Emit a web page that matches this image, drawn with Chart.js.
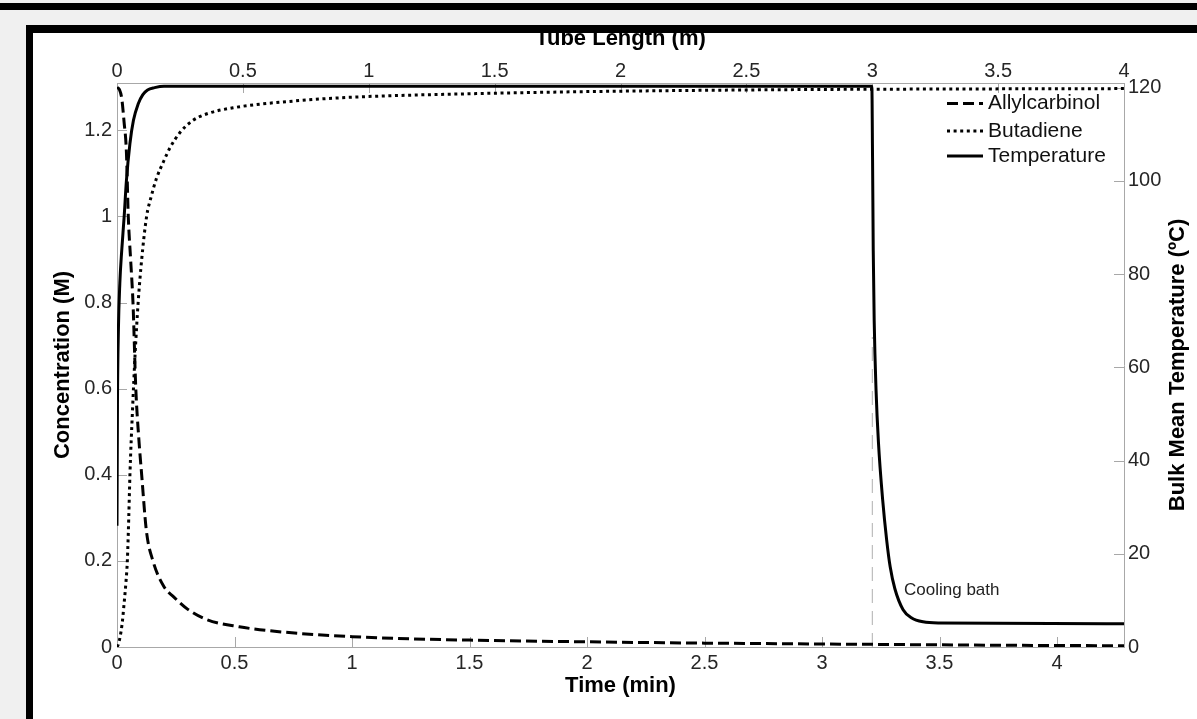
<!DOCTYPE html>
<html>
<head>
<meta charset="utf-8">
<script src="https://cdn.jsdelivr.net/npm/chart.js@4.4.1/dist/chart.umd.min.js"></script>
<style>
  html, body { margin: 0; padding: 0; }
  body { width: 1197px; height: 719px; background: #f0f0f0; position: relative; overflow: hidden; }
  #topbar { position: absolute; left: 0; top: 3px; width: 1197px; height: 7px; background: #000; z-index: 3; }
  #panel { position: absolute; left: 33px; top: 33px; width: 1164px; height: 686px; background: #fff; z-index: 0; }
  #frameTop { position: absolute; left: 26px; top: 25px; width: 1171px; height: 8px; background: #000; z-index: 3; }
  #frameLeft { position: absolute; left: 26px; top: 25px; width: 7px; height: 694px; background: #000; z-index: 3; }
  #chart { position: absolute; left: 0; top: 0; z-index: 1; }
</style>
</head>
<body>
<div id="topbar"></div>
<div id="panel"></div>
<canvas id="chart" width="1197" height="719"></canvas>
<div id="frameTop"></div>
<div id="frameLeft"></div>
<script>
// --- data ---
const timeMax = 4.285;      // min, bottom axis
const lengthMax = 4;        // m, top axis
const concMax = 1.31;       // M, left axis
const tempMax = 121;        // deg C, right axis

const allylTime = [0, 0.01, 0.02, 0.03, 0.04, 0.048, 0.058, 0.068, 0.08, 0.092, 0.105, 0.125, 0.153, 0.2, 0.24, 0.3, 0.38, 0.52, 0.7, 1.0, 1.25, 1.5, 2.0, 2.5, 3.0, 3.5, 4.0, 4.285];
const allylConc = [1.30, 1.295, 1.275, 1.22, 1.15, 1.0, 0.9, 0.8, 0.6, 0.49, 0.4, 0.27, 0.2, 0.14, 0.117, 0.088, 0.064, 0.047, 0.035, 0.024, 0.019, 0.016, 0.012, 0.009, 0.007, 0.005, 0.0035, 0.003];

const butaTime = [0, 0.005, 0.013, 0.022, 0.03, 0.038, 0.044, 0.05, 0.055, 0.066, 0.077, 0.09, 0.105, 0.126, 0.145, 0.169, 0.2, 0.226, 0.268, 0.32, 0.38, 0.5, 0.75, 1.0, 1.5, 2.0, 2.5, 3.0, 3.5, 4.285];
const butaConc = [0, 0.005, 0.023, 0.055, 0.1, 0.15, 0.2, 0.3, 0.4, 0.55, 0.68, 0.8, 0.9, 1.0, 1.045, 1.09, 1.13, 1.16, 1.195, 1.222, 1.238, 1.253, 1.268, 1.277, 1.285, 1.29, 1.293, 1.295, 1.296, 1.297];

const tempTime = [0, 0.002, 0.006, 0.012, 0.02, 0.03, 0.04, 0.055, 0.07, 0.09, 0.11, 0.13, 0.16, 0.2, 0.3, 1, 2, 3, 3.212, 3.215, 3.218, 3.222, 3.23, 3.24, 3.258, 3.275, 3.29, 3.31, 3.345, 3.38, 3.43, 3.5, 4.285];
const tempValue = [26, 52, 68, 78, 85, 92, 100, 108, 113, 116.5, 118.5, 119.5, 120, 120.3, 120.3, 120.3, 120.3, 120.3, 120.3, 105, 85, 70, 55, 44, 31.6, 23, 17.2, 12.5, 8, 6.3, 5.4, 5.15, 5.0];

// cooling bath marker (vertical dashed line) and its label
const bathTime = [3.214, 3.214];
const bathConc = [0, 0.72];
const bathLabel = { text: 'Cooling bath', t: 3.349, c: 0.132 };

const seriesNames = ['Allylcarbinol', 'Butadiene', 'Temperature'];

// --- style ---
const family = '"Liberation Sans", Arial, sans-serif';
const axisColor = '#a8a8a8';
const tickColor = '#262626';
const tickLen = 10;

const toPoints = (xs, ys) => xs.map((x, i) => ({ x: x, y: ys[i] }));
// "1" rather than "1.0", like the original
const plainNum = v => String(Number(v.toFixed(2)));

// inward tick marks, MATLAB style
const inwardTicks = {
    id: 'inwardTicks',
    beforeDatasetsDraw(chart) {
        const ctx = chart.ctx;
        const a = chart.chartArea;
        ctx.save();
        ctx.strokeStyle = axisColor;
        ctx.lineWidth = 1;
        ['x', 'x2', 'y', 'y2'].forEach(id => {
            const s = chart.scales[id];
            s.ticks.forEach(t => {
                const p = Math.round(s.getPixelForValue(t.value)) + 0.5;
                ctx.beginPath();
                if (id === 'x') { ctx.moveTo(p, a.bottom); ctx.lineTo(p, a.bottom - tickLen); }
                if (id === 'x2') { ctx.moveTo(p, a.top); ctx.lineTo(p, a.top + tickLen); }
                if (id === 'y') { ctx.moveTo(a.left, p); ctx.lineTo(a.left + tickLen, p); }
                if (id === 'y2') { ctx.moveTo(a.right, p); ctx.lineTo(a.right - tickLen, p); }
                ctx.stroke();
            });
        });
        ctx.restore();
    }
};

// legend box, right axis title and annotation text
const extras = {
    id: 'extras',
    afterDraw(chart) {
        const ctx = chart.ctx;
        const a = chart.chartArea;
        ctx.save();

        // legend
        const rows = [a.top + 20.5, a.top + 48, a.top + 73];
        seriesNames.forEach((name, i) => {
            const ds = chart.data.datasets.find(d => d.label === name);
            const y = rows[i];
            ctx.strokeStyle = ds.borderColor;
            ctx.lineWidth = ds.borderWidth;
            ctx.setLineDash(ds.borderDash || []);
            ctx.beginPath();
            ctx.moveTo(a.right - 177, y);
            ctx.lineTo(a.right - 141, y);
            ctx.stroke();
            ctx.setLineDash([]);
            ctx.fillStyle = '#111';
            ctx.font = '21px ' + family;
            ctx.textAlign = 'left';
            ctx.textBaseline = 'middle';
            ctx.fillText(name, a.right - 136, y);
        });

        // cooling bath label
        const sx = chart.scales.x, sy = chart.scales.y;
        ctx.fillStyle = '#222';
        ctx.font = '17px ' + family;
        ctx.fillText(bathLabel.text, sx.getPixelForValue(bathLabel.t), sy.getPixelForValue(bathLabel.c));

        // right axis title, reads bottom to top
        ctx.translate(1178, (a.top + a.bottom) / 2);
        ctx.rotate(-Math.PI / 2);
        ctx.fillStyle = '#000';
        ctx.font = 'bold 22px ' + family;
        ctx.textAlign = 'center';
        ctx.fillText('Bulk Mean Temperature (ºC)', 0, 0);
        ctx.restore();
    }
};

const tickFont = { size: 20, family: family };
const titleFont = { size: 22, weight: 'bold', family: family };

new Chart(document.getElementById('chart'), {
    type: 'line',
    data: {
        datasets: [
            {
                label: 'Temperature',
                data: toPoints(tempTime, tempValue),
                yAxisID: 'y2',
                borderColor: '#000',
                borderWidth: 3,
                pointRadius: 0,
                cubicInterpolationMode: 'monotone',
                order: 0
            },
            {
                label: 'Allylcarbinol',
                data: toPoints(allylTime, allylConc),
                yAxisID: 'y',
                borderColor: '#000',
                borderWidth: 3,
                borderDash: [11, 5],
                pointRadius: 0,
                cubicInterpolationMode: 'monotone',
                order: 1
            },
            {
                label: 'Butadiene',
                data: toPoints(butaTime, butaConc),
                yAxisID: 'y',
                borderColor: '#000',
                borderWidth: 3,
                borderDash: [3, 3.6],
                pointRadius: 0,
                cubicInterpolationMode: 'monotone',
                order: 2
            },
            {
                label: 'bath',
                data: toPoints(bathTime, bathConc),
                yAxisID: 'y',
                borderColor: '#b0b0b0',
                borderWidth: 1,
                borderDash: [14, 8],
                pointRadius: 0,
                order: 3
            }
        ]
    },
    options: {
        responsive: false,
        animation: false,
        layout: { padding: 0 },
        plugins: {
            legend: { display: false },
            tooltip: { enabled: false }
        },
        scales: {
            x: {
                type: 'linear', position: 'bottom', min: 0, max: timeMax,
                grid: { display: false, drawTicks: false },
                border: { color: axisColor },
                ticks: { stepSize: 0.5, includeBounds: false, padding: 4, color: tickColor, font: tickFont, maxRotation: 0, autoSkip: false, callback: plainNum },
                title: { display: true, text: 'Time (min)', color: '#000', font: titleFont, padding: { top: 0, bottom: 20 } },
                afterFit(s) { s.height = 72; }
            },
            x2: {
                type: 'linear', position: 'top', min: 0, max: lengthMax,
                grid: { display: false, drawTicks: false },
                border: { color: axisColor },
                ticks: { stepSize: 0.5, includeBounds: false, padding: 0, color: tickColor, font: tickFont, maxRotation: 0, autoSkip: false, callback: plainNum },
                title: { display: true, text: 'Tube Length (m)', color: '#000', font: titleFont, padding: { top: 26, bottom: 0 } },
                afterFit(s) { s.height = 83; }
            },
            y: {
                type: 'linear', position: 'left', min: 0, max: concMax,
                grid: { display: false, drawTicks: false },
                border: { color: axisColor },
                ticks: { stepSize: 0.2, includeBounds: false, padding: 5, color: tickColor, font: tickFont, callback: plainNum },
                title: { display: true, text: 'Concentration (M)', color: '#000', font: titleFont, padding: { top: 50, bottom: 0 } },
                afterFit(s) { s.width = 117; }
            },
            y2: {
                type: 'linear', position: 'right', min: 0, max: tempMax,
                grid: { display: false, drawTicks: false },
                border: { color: axisColor },
                ticks: { stepSize: 20, includeBounds: false, padding: 4, color: tickColor, font: tickFont, callback: plainNum },
                afterFit(s) { s.width = 73; }
            }
        }
    },
    plugins: [inwardTicks, extras]
});
</script>
</body>
</html>
